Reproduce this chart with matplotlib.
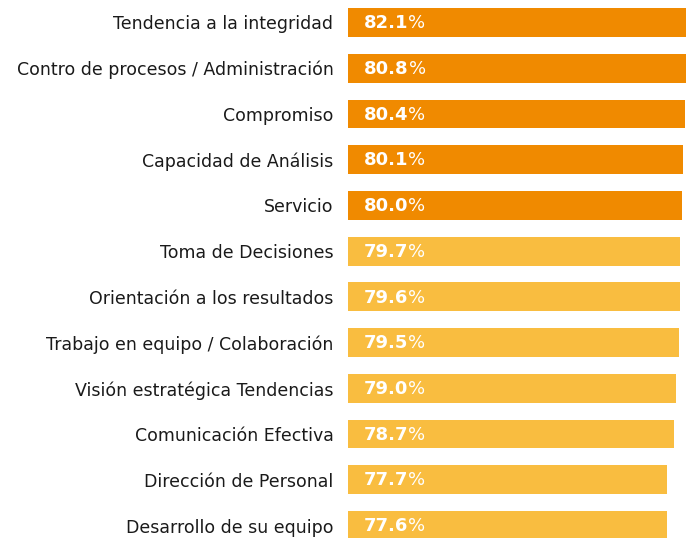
import matplotlib.pyplot as plt

# competencias y porcentajes
labels = [
    "Tendencia a la integridad",
    "Contro de procesos / Administración",
    "Compromiso",
    "Capacidad de Análisis",
    "Servicio",
    "Toma de Decisiones",
    "Orientación a los resultados",
    "Trabajo en equipo / Colaboración",
    "Visión estratégica Tendencias",
    "Comunicación Efectiva",
    "Dirección de Personal",
    "Desarrollo de su equipo",
]
values = [82.1, 80.8, 80.4, 80.1, 80.0, 79.7, 79.6, 79.5, 79.0, 78.7, 77.7, 77.6]
top_n = 5

dark = "#F08A00"
light = "#F9BD40"
colors = [dark if i < top_n else light for i in range(len(values))]

fig = plt.figure(figsize=(6.86, 5.38), dpi=100)
ax = fig.add_axes([348 / 686, 0, 338 / 686, 1])

y = list(range(len(values)))
ax.barh(y, values, height=0.63, color=colors)
ax.set_xlim(27.8, 80.6)
ax.set_ylim(11.273, -0.492)

for sp in ax.spines.values():
    sp.set_visible(False)
ax.set_xticks([])
ax.set_yticks(y)
ax.set_yticklabels(labels, fontsize=12.5, color="#1a1a1a")
ax.tick_params(axis="y", length=0, pad=10.5)

# etiquetas de valor: número en negrita y % normal
for yi, v in zip(y, values):
    t = ax.annotate(f"{v:.1f}", xy=(0, yi), xycoords=("axes fraction", "data"),
                    xytext=(11.5, -0.5), textcoords="offset points",
                    ha="left", va="center", color="white",
                    fontsize=13, fontweight="bold")
    ax.annotate("%", xy=(1, 0), xycoords=t, ha="left", va="bottom",
                color="white", fontsize=13)

fig.savefig("out.png", dpi=100)
